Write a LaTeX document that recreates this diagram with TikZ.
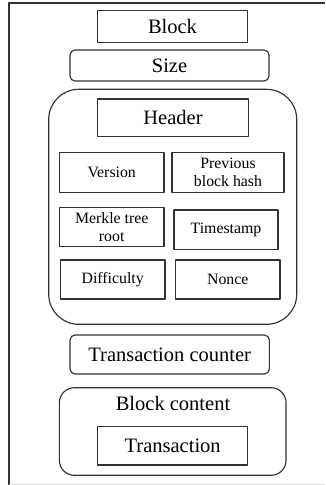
\documentclass[tikz,border=0pt]{standalone}
\usepackage{fontspec}
\setmainfont{Liberation Serif}
\begin{document}
\begin{tikzpicture}[x=1pt,y=-1pt,
  line join=round,
  box/.style={draw=black!80, line width=1.15pt, inner sep=0pt, align=center,
    font=\fontsize{20.5}{24}\selectfont},
  field/.style={box, font=\fontsize{15.8}{18.5}\selectfont},
  pill/.style={box, rounded corners=5pt},
  group/.style={draw=black!80, line width=1.15pt, inner sep=0pt}]
\useasboundingbox (0,0) rectangle (325,485);
% frame
\draw[black!80, line width=1.5pt] (9,485) -- (9,3) -- (325,3);
\draw[black!15, line width=0.8pt] (9,484) -- (325,484);

\node[box, minimum width=149.6pt, minimum height=31.3pt] (block) at (172.5,26.5) {Block};
\node[pill, minimum width=199pt, minimum height=31pt] (size) at (169.5,65.5) {Size};

% header and its fields
\node[group, rounded corners=30pt, minimum width=248pt, minimum height=235pt] (hdrgroup) at (172.7,206.8) {};
\node[box, minimum width=150.6pt, minimum height=37.7pt] (header) at (173,117.8) {Header};
\node[field, minimum width=104.7pt, minimum height=39.6pt] (version) at (111.7,172.5) {Version};
\node[field, minimum width=112pt, minimum height=39.6pt] (prev) at (228,172.5) {Previous\\block hash};
\node[field, minimum width=104.7pt, minimum height=39pt] (merkle) at (111.7,227.2) {Merkle tree\\root};
\node[field, minimum width=104pt, minimum height=39.3pt] (time) at (226,229.7) {Timestamp};
\node[field, minimum width=104.7pt, minimum height=39pt] (diff) at (112.7,279.5) {Difficulty};
\node[field, minimum width=104.3pt, minimum height=39pt] (nonce) at (227.8,279.5) {Nonce};

\node[pill, minimum width=199.3pt, minimum height=39pt] (counter) at (169.7,354.5) {Transaction counter};

% block content
\node[group, rounded corners=15pt, minimum width=226.7pt, minimum height=87.6pt] (content) at (172.7,431.5) {};
\node[anchor=base, inner sep=0pt, font=\fontsize{20.5}{24}\selectfont] (contentlabel) at (173,410.7) {Block content};
\node[box, minimum width=150pt, minimum height=38.3pt] (tx) at (172.7,445.8) {Transaction};
\end{tikzpicture}
\end{document}
